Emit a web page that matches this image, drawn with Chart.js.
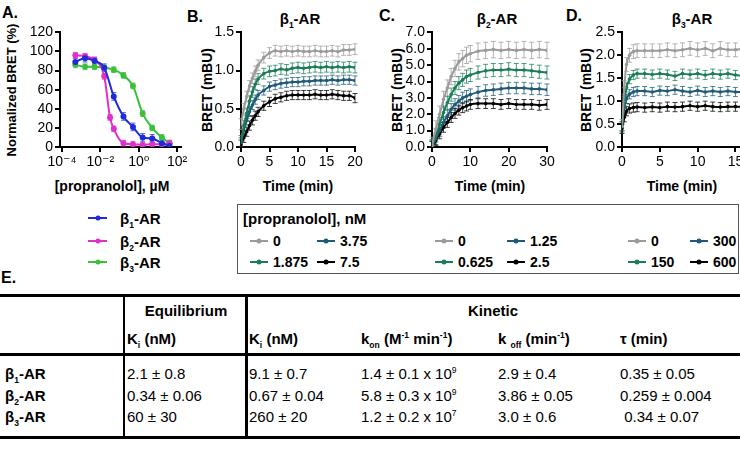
<!DOCTYPE html>
<html>
<head>
<meta charset="utf-8">
<script src="https://cdn.jsdelivr.net/npm/chart.js@4.4.0/dist/chart.umd.min.js"></script>
<style>
  body { margin: 0; width: 740px; height: 451px; overflow: hidden; background: #fff; position: relative;
         font-family: "Liberation Sans", Arial, "DejaVu Sans", sans-serif; color: #000; }
  .t { position: absolute; white-space: nowrap; line-height: 1; }
  .b { font-weight: bold; }
  canvas { position: absolute; }
  .rot { transform: translate(-50%, -50%) rotate(-90deg); }
  .ctr { transform: translate(-50%, -50%); }
  .mid { transform: translateY(-50%); }
  .hl { position: absolute; background: #000; }
  .key { position: absolute; height: 2px; }
  .key i { position: absolute; left: 50%; top: 50%; width: 5px; height: 5px; border-radius: 50%;
           transform: translate(-50%, -50%); background: inherit; }
  .tab { font-size: 15px; }
  sub, sup { font-size: 8.5px; line-height: 0; }
</style>
</head>
<body>
<!-- panel letters / titles -->
<div class="t b" style="left:2px;top:5px;font-size:16px">A.</div>
<div class="t b" style="left:187px;top:9px;font-size:16px">B.</div>
<div class="t b" style="left:379px;top:8px;font-size:16px">C.</div>
<div class="t b" style="left:566px;top:8px;font-size:16px">D.</div>
<div class="t b ctr" style="left:300px;top:18px;font-size:15px">β<sub>1</sub>-AR</div>
<div class="t b ctr" style="left:497px;top:18px;font-size:15px">β<sub>2</sub>-AR</div>
<div class="t b ctr" style="left:692px;top:18px;font-size:15px">β<sub>3</sub>-AR</div>

<div class="t b rot" style="left:11px;top:90px;font-size:13px">Normalized BRET (%)</div>
<div class="t b rot" style="left:207px;top:90px;font-size:14px">BRET (mBU)</div>
<div class="t b rot" style="left:397px;top:90px;font-size:14px">BRET (mBU)</div>
<div class="t b rot" style="left:586px;top:90px;font-size:14px">BRET (mBU)</div>
<div class="t b ctr" style="left:112px;top:186px;font-size:14px">[propranolol], µM</div>
<div class="t b ctr" style="left:298px;top:186px;font-size:14px">Time (min)</div>
<div class="t b ctr" style="left:490px;top:186px;font-size:14px">Time (min)</div>
<div class="t b ctr" style="left:682px;top:186px;font-size:14px">Time (min)</div>

<canvas id="cA" width="190" height="150" style="left:0px;top:22px;width:190px;height:150px"></canvas>
<canvas id="cB" width="160" height="150" style="left:205px;top:22px;width:160px;height:150px"></canvas>
<canvas id="cC" width="162" height="150" style="left:395px;top:22px;width:162px;height:150px"></canvas>
<canvas id="cD" width="170" height="150" style="left:585px;top:22px;width:170px;height:150px"></canvas>

<div id="legends"></div>

<!-- kinetic legend box -->
<div style="position:absolute;left:237px;top:204px;width:500px;height:68px;border:1px solid #555"></div>
<div class="t b mid" style="left:243px;top:218px;font-size:15px">[propranolol], nM</div>

<!-- table E -->
<div class="t b" style="left:1px;top:270px;font-size:16px">E.</div>
<div class="hl" style="left:0;top:294px;width:740px;height:2.5px"></div>
<div class="hl" style="left:0;top:353px;width:740px;height:3px"></div>
<div class="hl" style="left:0;top:436px;width:740px;height:3px"></div>
<div class="hl" style="left:122.5px;top:294px;width:2.5px;height:145px"></div>
<div class="hl" style="left:245px;top:294px;width:2.5px;height:145px"></div>
<div id="table"></div>

<script>
// ---- panel A: dose response, [propranolol] (µM) vs normalized BRET (%)
const concA = [0.0005, 0.0016, 0.005, 0.016, 0.05, 0.16, 0.5, 1.6, 5, 16, 40];
const concA2 = [0.0005, 0.0016, 0.005, 0.016, 0.032, 0.05, 0.16, 0.5, 1.6, 5, 16, 40];
const bretB1 = [89, 93, 90, 83, 53, 32, 21, 10, 9, 4, 1];
const bretB2 = [96, 95, 91, 74, 31, 19, 4, 3, 2, 3, 3, 4];
const bretB3 = [86, 84, 84, 83, 81, 75, 64, 35, 20, 10, 4];
const errA = [4, 3, 3];
const receptors = ['β<sub>1</sub>-AR', 'β<sub>2</sub>-AR', 'β<sub>3</sub>-AR'];
const receptorColors = ['#1f2bd8', '#df30c8', '#3cbf3c'];
const logTicksA = [1e-4, 1e-2, 1, 1e2];

// ---- panel B: β1-AR kinetics
const timeB = [0, 0.5, 1, 1.5, 2, 2.5, 3, 4, 5, 6, 7, 8, 9, 10, 11, 12, 13, 14, 15, 16, 17, 18, 19, 20];
const b1_0 = [0.3, 0.5, 0.66, 0.8, 0.9, 0.99, 1.07, 1.17, 1.23, 1.26, 1.25, 1.26, 1.25, 1.26, 1.25, 1.25, 1.26, 1.25, 1.25, 1.26, 1.25, 1.27, 1.27, 1.28];
const b1_1875 = [0.08, 0.28, 0.44, 0.6, 0.72, 0.82, 0.89, 0.96, 0.99, 1.0, 1.02, 1.01, 1.03, 1.04, 1.03, 1.04, 1.05, 1.04, 1.05, 1.04, 1.05, 1.04, 1.05, 1.04];
const b1_375 = [0.06, 0.22, 0.35, 0.46, 0.55, 0.62, 0.68, 0.74, 0.79, 0.81, 0.83, 0.84, 0.85, 0.85, 0.86, 0.86, 0.87, 0.87, 0.87, 0.88, 0.87, 0.88, 0.88, 0.87];
const b1_75 = [0.03, 0.12, 0.2, 0.28, 0.35, 0.41, 0.46, 0.54, 0.59, 0.63, 0.65, 0.67, 0.68, 0.68, 0.68, 0.68, 0.69, 0.68, 0.68, 0.69, 0.68, 0.67, 0.67, 0.64];
const errB = [0.07, 0.07, 0.06, 0.06];
const concB = ['0', '1.875', '3.75', '7.5'];

// ---- panel C: β2-AR kinetics
const timeC = [0, 1, 2, 3, 4, 5, 6, 7, 8, 9, 10, 12, 14, 16, 18, 20, 22, 24, 26, 28, 30];
const b2_0 = [0.1, 1.1, 2.0, 2.9, 3.6, 4.3, 4.8, 5.2, 5.4, 5.6, 5.7, 5.85, 5.9, 5.95, 5.9, 5.95, 5.9, 5.95, 5.9, 5.95, 5.9];
const b2_0625 = [0.05, 0.7, 1.4, 2.1, 2.7, 3.2, 3.6, 3.9, 4.1, 4.3, 4.4, 4.55, 4.65, 4.7, 4.7, 4.75, 4.7, 4.7, 4.65, 4.6, 4.55];
const b2_125 = [0.05, 0.5, 1.0, 1.5, 1.9, 2.3, 2.6, 2.8, 3.0, 3.1, 3.2, 3.35, 3.45, 3.5, 3.55, 3.6, 3.6, 3.6, 3.55, 3.55, 3.5];
const b2_25 = [0.03, 0.4, 0.8, 1.2, 1.5, 1.8, 2.05, 2.25, 2.4, 2.5, 2.6, 2.65, 2.65, 2.65, 2.6, 2.65, 2.6, 2.6, 2.6, 2.55, 2.6];
const errC = [0.5, 0.4, 0.35, 0.3];
const concC = ['0', '0.625', '1.25', '2.5'];

// ---- panel D: β3-AR kinetics
const timeD = [0, 0.3, 0.6, 1, 1.5, 2, 3, 4, 5, 6, 7, 8, 9, 10, 11, 12, 13, 14, 15, 16];
const b3_0 = [0.45, 1.3, 1.8, 2.0, 2.08, 2.1, 2.1, 2.1, 2.1, 2.12, 2.1, 2.12, 2.15, 2.12, 2.15, 2.1, 2.15, 2.12, 2.12, 2.15];
const b3_150 = [0.45, 1.0, 1.3, 1.48, 1.57, 1.6, 1.6, 1.58, 1.6, 1.58, 1.55, 1.6, 1.58, 1.6, 1.57, 1.6, 1.58, 1.6, 1.57, 1.55];
const b3_300 = [0.45, 0.85, 1.05, 1.15, 1.2, 1.22, 1.22, 1.2, 1.23, 1.22, 1.25, 1.22, 1.2, 1.23, 1.2, 1.22, 1.2, 1.22, 1.2, 1.2];
const b3_600 = [0.4, 0.65, 0.78, 0.84, 0.86, 0.87, 0.86, 0.87, 0.86, 0.88, 0.87, 0.88, 0.9, 0.88, 0.9, 0.88, 0.87, 0.88, 0.88, 0.88];
const errD = [0.15, 0.1, 0.1, 0.1];
const concD = ['0', '150', '300', '600'];

const doseColors = ['#9b9b9b', '#1b7d55', '#1f5a78', '#000000'];

// ---- table E
const tableRows = ['β<sub>1</sub>-AR', 'β<sub>2</sub>-AR', 'β<sub>3</sub>-AR'];
const kiEq = ['2.1 ± 0.8', '0.34 ± 0.06', '60 ± 30'];
const kiKin = ['9.1 ± 0.7', '0.67 ± 0.04', '260 ± 20'];
const kOn = ['1.4 ± 0.1 x 10<sup>9</sup>', '5.8 ± 0.3 x 10<sup>9</sup>', '1.2 ± 0.2 x 10<sup>7</sup>'];
const kOff = ['2.9 ± 0.4', '3.86 ± 0.05', '3.0 ± 0.6'];
const tau = ['0.35 ± 0.05', '0.259 ± 0.004', '&nbsp;0.34 ± 0.07'];

const FONT = '"Liberation Sans", Arial, "DejaVu Sans", sans-serif';
Chart.defaults.font.family = FONT;
Chart.defaults.color = '#000';

// vertical error bars, drawn through the y scale
const errorBars = {
  id: 'errorBars',
  beforeDatasetsDraw(chart) {
    const ctx = chart.ctx, ys = chart.scales.y, a = chart.chartArea;
    ctx.save();
    ctx.beginPath();
    ctx.rect(a.left - 4, a.top - 4, a.right - a.left + 8, a.bottom - a.top + 4);
    ctx.clip();
    chart.data.datasets.forEach((ds, i) => {
      if (ds.err == null) return;
      const meta = chart.getDatasetMeta(i);
      ctx.strokeStyle = ds.borderColor;
      ctx.globalAlpha = 0.75;
      ctx.lineWidth = 1;
      meta.data.forEach((pt, j) => {
        const v = ds.data[j].y;
        const top = ys.getPixelForValue(v + ds.err);
        const bot = ys.getPixelForValue(Math.max(0, v - ds.err));
        ctx.beginPath();
        ctx.moveTo(pt.x, top); ctx.lineTo(pt.x, bot);
        ctx.moveTo(pt.x - 2.5, top); ctx.lineTo(pt.x + 2.5, top);
        ctx.moveTo(pt.x - 2.5, bot); ctx.lineTo(pt.x + 2.5, bot);
        ctx.stroke();
      });
    });
    ctx.restore();
  }
};

function axis(min, max, tickVals, fmt, fit, isX, type) {
  return {
    type: type || 'linear', min: min, max: max,
    afterBuildTicks: s => { s.ticks = tickVals.map(v => ({ value: v })); },
    afterFit: s => { if (isX) s.height = fit; else s.width = fit; },
    ticks: { color: '#000', font: { size: 14 }, padding: 2, maxRotation: 0, autoSkip: false, callback: fmt },
    grid: { display: true, drawOnChartArea: false, drawTicks: true, tickLength: 5, color: '#000', lineWidth: 2 },
    border: { display: true, color: '#000', width: 2 }
  };
}

function series(xs, ys, color, err, radius, width) {
  return {
    data: xs.map((x, i) => ({ x: x, y: ys[i] })),
    borderColor: color, backgroundColor: color, err: err,
    pointRadius: radius, pointBorderWidth: 0, borderWidth: width,
    cubicInterpolationMode: 'monotone', fill: false
  };
}

function panel(id, datasets, xAxis, yAxis, padRight) {
  return new Chart(document.getElementById(id), {
    type: 'line',
    data: { datasets: datasets },
    options: {
      responsive: false, animation: false,
      layout: { padding: { top: 10, right: padRight, left: 0, bottom: 0 } },
      plugins: { legend: { display: false }, tooltip: { enabled: false } },
      scales: { x: xAxis, y: yAxis }
    },
    plugins: [errorBars]
  });
}

const sup = { '-': '⁻', '0': '⁰', '1': '¹', '2': '²', '4': '⁴' };
const fmtLog = v => '10' + String(Math.round(Math.log10(v))).split('').map(c => sup[c]).join('');
const fmt1 = v => v.toFixed(1);
const fmt0 = v => String(v);
const range = (a, b, s) => { const r = []; for (let v = a; v <= b + 1e-9; v += s) r.push(+v.toFixed(2)); return r; };

panel('cA', [
  series(concA, bretB1, receptorColors[0], errA[0], 3, 2),
  series(concA2, bretB2, receptorColors[1], errA[1], 3, 2),
  series(concA, bretB3, receptorColors[2], errA[2], 3, 2)
], axis(Math.pow(10, -4.1), Math.pow(10, 2.2), logTicksA, fmtLog, 25, true, 'logarithmic'),
   axis(0, 120, range(0, 120, 20), fmt0, 60, false), 9);

const kin = (times, sets, errs) => sets.map((s, i) => series(times, s, doseColors[i], errs[i], 1.8, 2));

panel('cB', kin(timeB, [b1_0, b1_1875, b1_375, b1_75], errB),
  axis(0, 20, [0, 5, 10, 15, 20], fmt0, 25, true), axis(0, 1.5, range(0, 1.5, 0.5), fmt1, 36, false), 10);
panel('cC', kin(timeC, [b2_0, b2_0625, b2_125, b2_25], errC),
  axis(0, 30, [0, 10, 20, 30], fmt0, 25, true), axis(0, 7, range(0, 7, 1), fmt1, 37, false), 10);
panel('cD', kin(timeD, [b3_0, b3_150, b3_300, b3_600], errD),
  axis(0, 16, [0, 5, 10, 15], fmt0, 25, true), axis(0, 2.5, range(0, 2.5, 0.5), fmt1, 37, false), 12);

// legends
let html = '';
const key = (x, y, color, w) =>
  `<div class="key" style="left:${x}px;top:${y - 1}px;width:${w}px;background:${color}"><i></i></div>`;
const txt = (x, y, s, size) => `<div class="t b mid" style="left:${x}px;top:${y}px;font-size:${size}px">${s}</div>`;
receptors.forEach((r, i) => {
  const y = [218, 241, 262][i];
  html += key(88, y, receptorColors[i], 19) + txt(120, y, r, 15);
});
// each kinetic group: row1 = dose 0 & dose 2, row2 = dose 1 & dose 3
[[250, 317, concB], [435, 507, concC], [628, 690, concD]].forEach(([x1, x2, labels]) => {
  [[0, x1, 241], [2, x2, 241], [1, x1, 262], [3, x2, 262]].forEach(([k, x, y]) => {
    html += key(x, y, doseColors[k], 18) + txt(x + 23, y, labels[k], 14);
  });
});
document.getElementById('legends').innerHTML = html;

// table text
let tb = '';
const cell = (x, y, s, bold) => `<div class="t tab mid${bold ? ' b' : ''}" style="left:${x}px;top:${y}px">${s}</div>`;
tb += `<div class="t tab b ctr" style="left:186px;top:310px">Equilibrium</div>`;
tb += `<div class="t tab b ctr" style="left:493px;top:310px">Kinetic</div>`;
tb += cell(127, 338, 'K<sub>i</sub> (nM)', true);
tb += cell(249, 338, 'K<sub>i</sub> (nM)', true);
tb += cell(361, 338, 'k<sub>on</sub> (M<sup>-1</sup> min<sup>-1</sup>)', true);
tb += cell(498, 338, 'k <sub>off</sub> (min<sup>-1</sup>)', true);
tb += cell(620, 338, 'τ (min)', true);
[373, 395, 416].forEach((y, i) => {
  tb += cell(5, y, tableRows[i], true);
  tb += cell(127, y, kiEq[i]);
  tb += cell(249, y, kiKin[i]);
  tb += cell(361, y, kOn[i]);
  tb += cell(498, y, kOff[i]);
  tb += cell(620, y, tau[i]);
});
document.getElementById('table').innerHTML = tb;
</script>
</body>
</html>
